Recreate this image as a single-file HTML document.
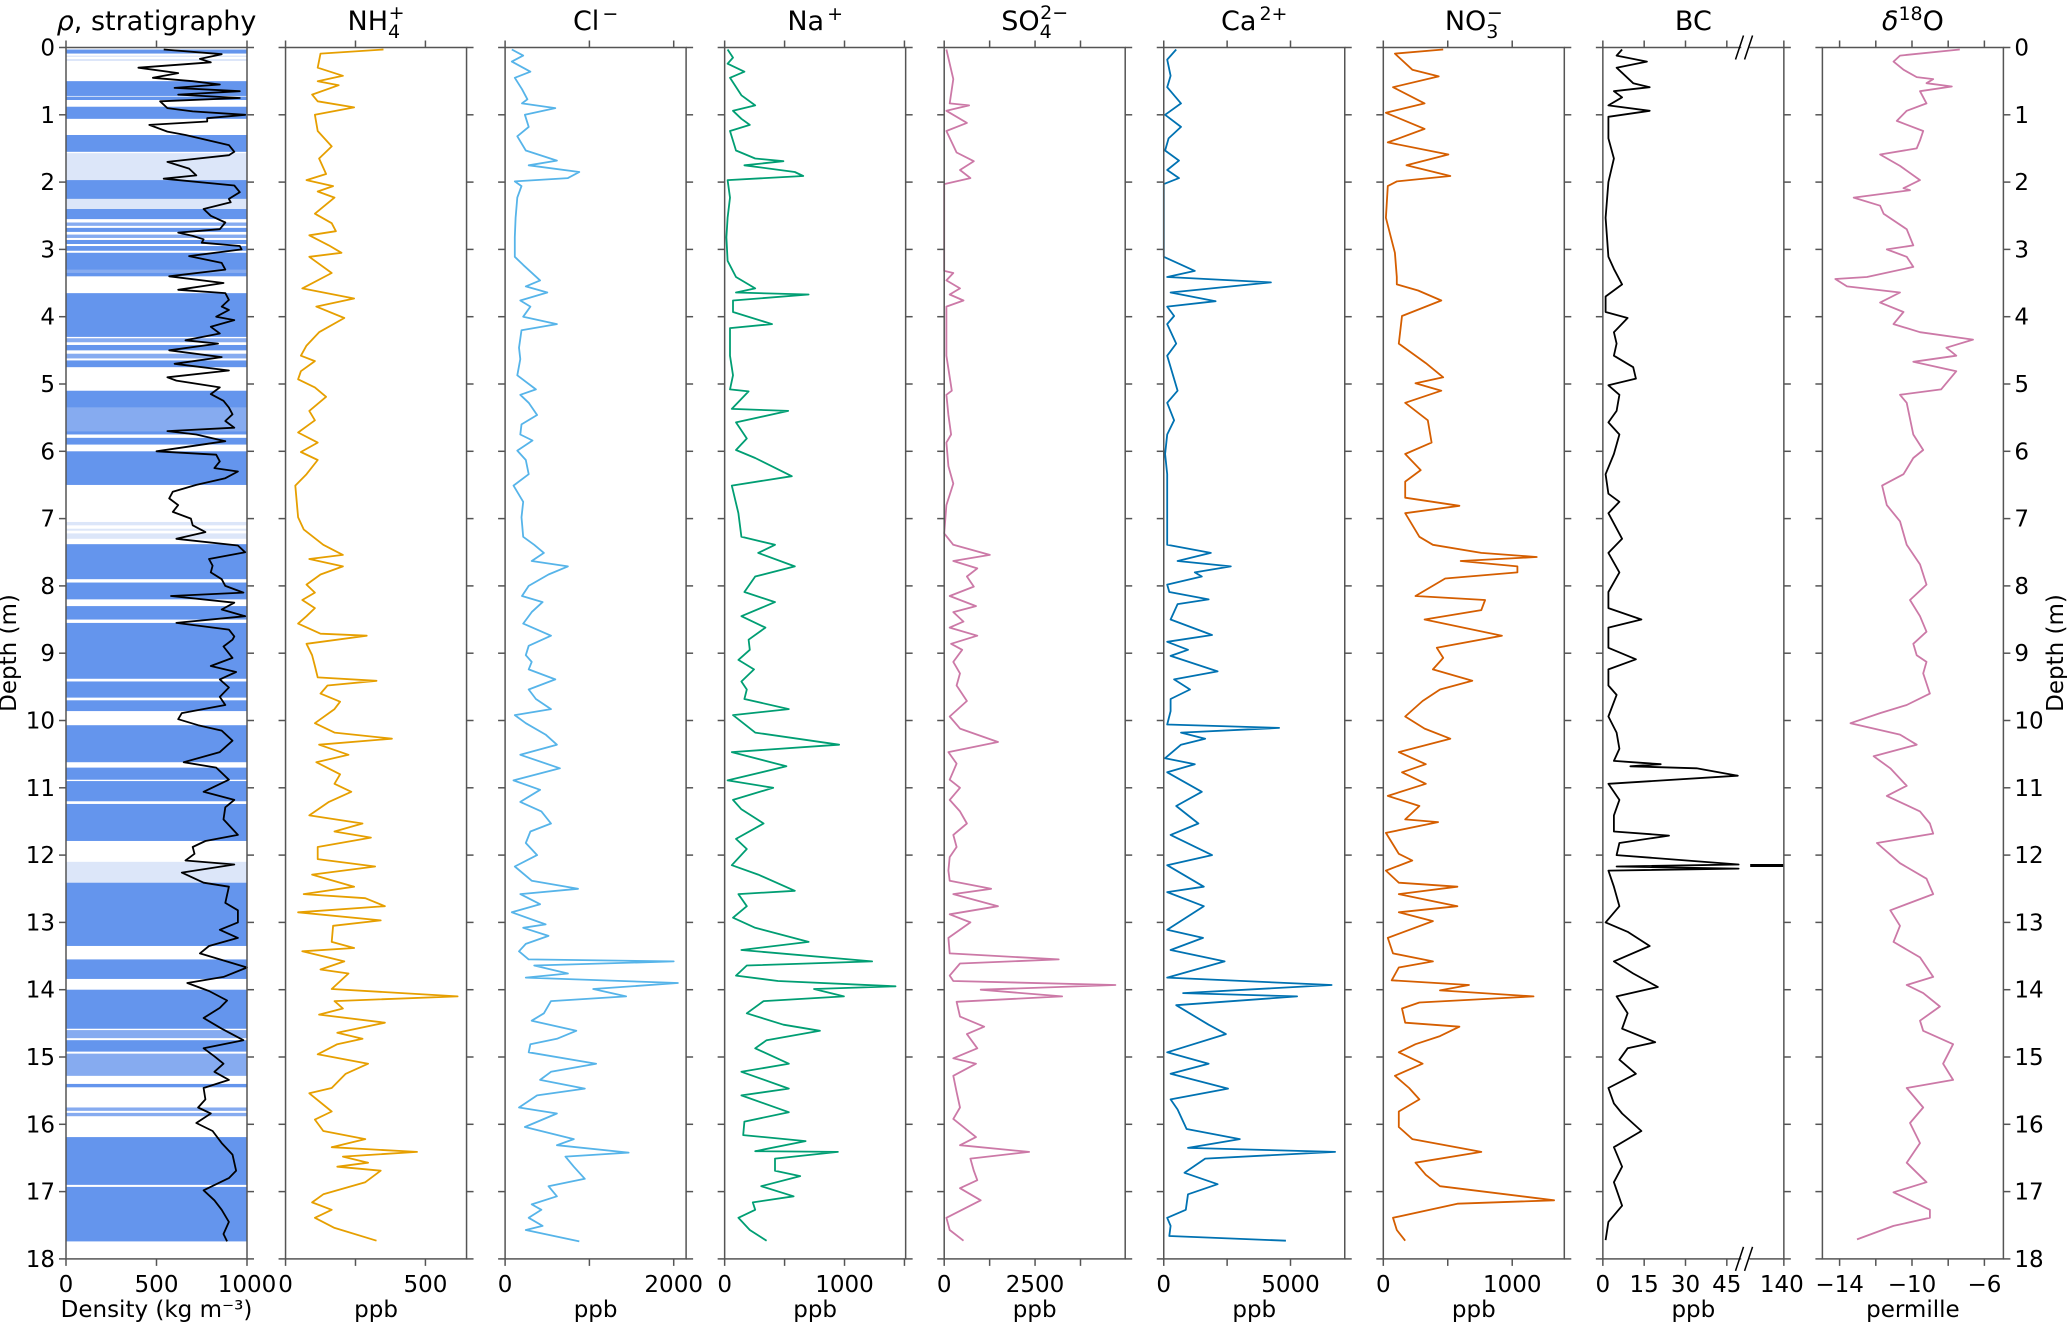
<!DOCTYPE html>
<html><head><meta charset="utf-8"><style>
html,body{margin:0;padding:0;background:#fff;}
svg{display:block;font-family:"DejaVu Sans","Liberation Sans",sans-serif;}
</style></head><body>
<svg id="chart" width="2067" height="1323" viewBox="0 0 2067 1323" xmlns="http://www.w3.org/2000/svg"></svg>
<script>
// ---------- data ----------
const densDepth=[0.03,0.1,0.17,0.22,0.3,0.38,0.45,0.5,0.55,0.6,0.65,0.7,0.75,0.8,0.9,0.95,1.0,1.05,1.1,1.15,1.25,1.3,1.45,1.55,1.6,1.7,1.8,1.9,1.95,2.05,2.15,2.25,2.3,2.4,2.5,2.6,2.7,2.75,2.8,2.85,2.9,2.95,3.0,3.1,3.2,3.3,3.4,3.5,3.6,3.65,3.75,3.85,3.9,4.0,4.05,4.15,4.25,4.35,4.4,4.5,4.6,4.7,4.8,4.9,4.95,5.05,5.15,5.25,5.35,5.45,5.55,5.65,5.7,5.75,5.85,6.0,6.05,6.15,6.25,6.3,6.4,6.5,6.6,6.7,6.8,6.9,7.0,7.1,7.2,7.3,7.4,7.5,7.6,7.7,7.8,7.9,8.0,8.1,8.15,8.25,8.35,8.45,8.55,8.65,8.75,8.8,8.9,9.07,9.19,9.28,9.39,9.51,9.65,9.77,9.89,9.98,10.07,10.15,10.3,10.47,10.62,10.7,10.88,11.06,11.18,11.29,11.47,11.7,11.79,11.88,11.98,12.08,12.14,12.26,12.41,12.47,12.71,12.82,13.0,13.11,13.23,13.35,13.46,13.67,13.81,13.9,14.02,14.16,14.27,14.42,14.58,14.75,14.87,14.99,15.1,15.22,15.34,15.46,15.63,15.75,15.84,15.98,16.1,16.28,16.45,16.69,16.8,16.98,17.13,17.27,17.45,17.63,17.74];
const densVal=[540,860,740,800,400,620,480,700,850,600,960,620,960,520,560,700,990,780,780,460,560,660,900,930,900,560,680,720,540,930,960,900,910,760,800,880,850,620,700,760,750,960,970,680,860,880,570,870,620,880,900,860,900,830,930,800,850,660,840,570,860,600,900,560,610,850,800,870,900,920,880,930,560,720,880,500,830,850,820,950,880,720,590,570,620,590,690,700,770,610,950,990,790,810,800,860,880,980,580,930,860,990,610,900,930,920,870,920,800,940,850,900,850,880,640,620,730,860,920,850,650,830,900,760,930,880,870,950,770,700,710,660,930,640,760,900,880,950,950,850,950,790,740,1000,870,670,790,890,850,760,860,980,760,820,870,820,900,760,770,730,800,720,810,860,920,940,900,760,820,860,900,870,890];
// stratigraphy layers: top, bottom, type (1 = dense blue, 2 = medium, 3 = light)
const layerTop=   [0.03,0.12,0.17,0.5,0.73,0.88,1.3,1.57,1.97,2.25,2.4,2.6,2.68,2.78,2.86,2.95,3.05,3.3,3.65,4.32,4.42,4.55,4.65,5.1,5.35,5.7,5.8,6.0,7.05,7.15,7.22,7.38,7.95,8.3,8.55,9.42,9.7,10.07,10.7,10.9,11.24,12.1,12.41,13.55,14.0,14.6,14.75,14.95,15.4,15.75,15.83,16.19,16.93];
const layerBottom=[0.09,0.14,0.2,0.72,0.78,1.06,1.55,1.97,2.25,2.4,2.55,2.65,2.74,2.83,2.92,3.02,3.4,3.35,4.3,4.38,4.5,4.62,4.75,5.35,5.7,5.75,5.9,6.5,7.1,7.18,7.3,7.9,8.2,8.5,9.38,9.66,9.86,10.62,10.88,11.2,11.79,12.41,13.35,13.84,14.58,14.72,14.92,15.28,15.45,15.8,15.88,16.9,17.74];
const layerType=  [1,3,3,1,1,1,1,3,1,3,1,2,1,2,1,1,1,2,1,2,1,2,1,1,2,1,1,1,3,3,3,1,1,1,1,1,1,1,1,1,1,3,1,1,1,2,1,2,1,2,2,1,1];

const nh4Depth=[0.03,0.09,0.3,0.42,0.5,0.56,0.7,0.8,0.89,1.0,1.24,1.47,1.65,1.88,1.97,2.06,2.14,2.23,2.47,2.61,2.73,2.79,2.94,3.05,3.11,3.35,3.58,3.73,3.85,4.02,4.23,4.43,4.58,4.66,4.81,4.93,5.05,5.19,5.4,5.54,5.72,5.87,6.01,6.13,6.34,6.51,6.98,7.16,7.39,7.54,7.6,7.71,7.83,7.98,8.1,8.21,8.33,8.45,8.56,8.71,8.74,8.86,9.03,9.19,9.36,9.41,9.48,9.6,9.72,9.83,10.04,10.18,10.27,10.36,10.51,10.62,10.8,10.94,11.06,11.21,11.41,11.53,11.65,11.74,11.88,12.06,12.17,12.29,12.47,12.58,12.64,12.76,12.85,12.97,13.05,13.29,13.38,13.43,13.58,13.7,13.76,13.99,14.1,14.17,14.28,14.37,14.49,14.64,14.73,14.81,14.96,15.1,15.25,15.46,15.54,15.81,15.93,16.1,16.22,16.34,16.41,16.48,16.57,16.63,16.69,16.86,17.04,17.16,17.27,17.39,17.54,17.73];
const nh4Val=[350,125,115,205,115,190,95,115,245,105,115,165,120,145,75,170,115,175,105,165,180,85,155,200,85,165,60,245,110,210,120,75,55,105,55,45,105,145,85,105,45,115,55,115,75,35,45,65,135,205,85,205,125,75,105,60,105,75,45,125,290,75,95,105,115,325,150,125,195,175,105,175,380,120,225,110,195,175,235,155,85,275,175,305,115,115,320,95,245,65,285,355,45,340,170,165,245,60,210,125,225,165,615,175,205,120,355,185,275,185,115,295,215,165,85,165,105,135,285,165,470,205,295,185,340,285,135,95,165,105,175,325];

const clDepth=[0.03,0.12,0.21,0.36,0.45,0.62,0.77,0.83,0.9,1.0,1.18,1.32,1.53,1.68,1.75,1.85,1.94,1.99,2.06,2.23,2.53,2.82,3.11,3.23,3.46,3.55,3.64,3.76,3.85,4.0,4.11,4.2,4.46,4.63,4.87,5.08,5.16,5.28,5.46,5.6,5.75,5.84,5.99,6.13,6.34,6.51,6.75,6.98,7.27,7.39,7.51,7.63,7.71,7.83,8.0,8.15,8.24,8.39,8.56,8.74,8.89,9.03,9.13,9.24,9.39,9.54,9.68,9.83,9.92,10.04,10.21,10.36,10.51,10.71,10.89,11.03,11.21,11.35,11.53,11.65,11.82,12.0,12.17,12.38,12.5,12.58,12.73,12.85,13.03,13.08,13.2,13.32,13.43,13.55,13.58,13.64,13.76,13.82,13.9,13.99,14.1,14.17,14.35,14.46,14.61,14.73,14.81,14.93,15.1,15.22,15.34,15.47,15.57,15.75,15.84,16.04,16.22,16.31,16.42,16.48,16.63,16.81,16.92,17.07,17.19,17.27,17.39,17.51,17.57,17.74];
const clVal=[80,215,80,300,115,200,265,200,595,235,280,145,245,615,280,880,745,115,195,145,125,115,115,215,415,245,500,180,300,215,615,195,165,180,145,365,180,280,380,195,180,325,145,245,280,100,215,195,215,345,460,315,745,515,280,200,445,315,215,545,280,245,315,280,595,280,365,545,115,245,480,615,180,650,100,415,180,430,545,300,245,380,115,315,865,180,415,80,480,215,515,245,165,280,2000,345,745,245,2050,1045,1435,545,460,315,845,615,300,280,1080,545,415,945,380,165,615,235,815,615,1465,715,815,945,515,615,315,430,280,445,245,880];

const naDepth=[0.03,0.15,0.24,0.36,0.45,0.71,0.86,0.94,1.06,1.15,1.24,1.53,1.65,1.69,1.75,1.85,1.91,1.97,2.23,2.53,2.82,3.17,3.41,3.58,3.64,3.67,3.76,3.93,4.11,4.17,4.58,4.87,5.08,5.11,5.37,5.4,5.57,5.81,5.98,6.1,6.37,6.51,6.92,7.27,7.39,7.51,7.71,7.86,8.09,8.24,8.45,8.62,8.8,8.95,9.1,9.24,9.42,9.54,9.68,9.83,9.92,10.18,10.36,10.47,10.68,10.89,11.0,11.18,11.32,11.53,11.76,11.91,12.15,12.29,12.53,12.58,12.76,12.93,13.08,13.29,13.41,13.58,13.64,13.79,13.87,13.95,13.99,14.1,14.17,14.35,14.52,14.61,14.75,14.87,15.1,15.22,15.47,15.57,15.82,15.96,16.16,16.25,16.4,16.41,16.51,16.69,16.77,16.92,17.07,17.16,17.27,17.39,17.57,17.73];
const naVal=[25,70,25,165,45,140,255,70,140,210,45,95,255,490,165,585,655,25,45,25,15,25,95,255,95,700,70,70,395,45,45,70,45,200,60,530,95,185,95,255,560,60,115,140,420,280,585,255,165,420,140,340,200,210,115,245,140,185,165,535,70,255,955,60,515,25,405,70,140,325,95,185,60,280,585,115,185,70,255,700,140,1230,185,95,445,1425,745,995,325,185,490,795,350,255,535,140,535,140,535,165,155,675,255,945,420,420,630,305,575,235,255,115,210,350];

const so4Depth=[0.03,0.47,0.83,0.86,0.94,1.12,1.24,1.56,1.69,1.82,1.94,2.03,2.82,3.32,3.35,3.46,3.58,3.67,3.76,3.85,4.58,5.1,5.16,5.46,5.75,5.87,6.22,6.48,6.8,7.22,7.39,7.54,7.63,7.74,7.86,8.01,8.15,8.3,8.39,8.53,8.62,8.74,8.86,8.95,9.13,9.3,9.48,9.71,9.94,10.12,10.32,10.47,10.64,10.88,11.0,11.18,11.35,11.53,11.7,11.88,12.03,12.23,12.38,12.5,12.58,12.76,12.88,13.0,13.23,13.46,13.55,13.61,13.79,13.87,13.93,14.0,14.1,14.18,14.4,14.55,14.66,14.87,15.02,15.1,15.28,15.52,15.75,15.92,16.19,16.31,16.41,16.51,16.69,16.83,16.95,17.13,17.39,17.57,17.73];
const so4Val=[60,250,150,685,60,625,60,340,815,435,720,0,0,0,250,60,435,150,530,60,60,210,60,115,190,60,115,250,60,0,250,1255,250,910,625,815,150,875,250,530,150,910,190,495,250,435,340,625,150,435,1480,115,340,150,435,150,435,625,250,340,150,115,150,1290,250,1480,150,720,115,150,3150,435,150,250,4710,1005,3245,340,435,1100,625,910,250,875,250,340,435,250,875,435,2335,720,815,910,435,1005,60,150,530];

const caDepth=[0.03,0.18,0.42,0.59,0.83,1.0,1.18,1.35,1.53,1.68,1.82,1.94,2.03,3.11,3.32,3.41,3.49,3.64,3.77,3.85,3.99,4.11,4.4,4.58,5.1,5.28,5.54,5.75,6.04,6.34,6.63,7.39,7.51,7.63,7.71,7.8,7.86,7.98,8.09,8.2,8.27,8.5,8.73,8.83,8.95,9.04,9.27,9.39,9.54,9.68,9.86,10.06,10.11,10.18,10.27,10.36,10.56,10.65,10.77,11.06,11.27,11.53,11.7,12.0,12.15,12.47,12.55,12.76,13.11,13.23,13.41,13.58,13.82,13.93,14.05,14.1,14.23,14.52,14.66,14.93,15.1,15.25,15.47,15.63,15.78,16.07,16.22,16.35,16.41,16.51,16.72,16.89,17.04,17.27,17.39,17.51,17.66,17.73];
const caVal=[490,135,270,135,680,55,680,190,55,600,135,600,0,0,1225,135,4225,270,2045,135,410,135,490,135,545,135,410,135,55,135,135,135,1855,545,2645,1225,1500,135,220,1770,545,270,1905,135,955,270,2125,410,1035,270,270,135,4550,680,1635,680,55,1225,135,1500,490,1365,270,1905,135,1580,135,1580,135,1550,270,2400,135,6620,765,5260,490,1770,2450,135,1770,270,2535,270,545,900,3000,955,6760,1635,820,2125,955,870,135,270,220,4820];

const no3Depth=[0.03,0.09,0.33,0.43,0.59,0.83,0.97,1.21,1.41,1.59,1.75,1.91,1.99,2.06,2.53,3.05,3.41,3.52,3.61,3.76,3.99,4.4,4.69,4.9,4.99,5.1,5.28,5.54,5.87,6.04,6.28,6.45,6.69,6.81,6.92,7.27,7.39,7.51,7.57,7.63,7.71,7.8,7.89,8.15,8.21,8.36,8.5,8.74,8.92,9.07,9.24,9.41,9.54,9.71,9.94,10.12,10.27,10.47,10.65,10.77,10.94,11.12,11.27,11.47,11.51,11.67,11.98,12.08,12.23,12.41,12.47,12.58,12.76,12.85,12.98,13.23,13.46,13.58,13.67,13.86,13.93,14.01,14.1,14.19,14.28,14.49,14.55,14.69,14.81,14.93,15.1,15.28,15.46,15.63,15.81,16.04,16.22,16.41,16.57,16.75,16.92,17.13,17.18,17.39,17.57,17.73];
const no3Val=[465,90,225,430,75,320,20,320,35,505,180,520,105,35,20,90,105,105,270,450,145,120,330,465,250,450,170,345,375,170,290,170,170,590,170,280,385,760,1190,600,1040,1040,480,250,790,760,320,920,415,465,385,690,440,305,170,320,520,120,330,145,330,35,280,170,425,20,120,225,20,120,575,120,575,120,385,35,75,385,120,65,665,440,1165,280,145,170,590,440,250,120,305,90,200,280,120,120,225,760,250,330,440,1325,575,75,105,170];

const bcDepth=[0.03,0.12,0.21,0.3,0.53,0.59,0.65,0.74,0.86,0.94,1.03,1.35,1.65,2.0,2.53,3.11,3.29,3.52,3.7,3.93,4.02,4.23,4.4,4.58,4.75,4.92,5.02,5.16,5.4,5.57,5.75,6.04,6.34,6.63,6.75,6.92,7.3,7.51,7.8,8.09,8.33,8.5,8.62,8.92,9.09,9.24,9.48,9.62,9.94,10.18,10.42,10.6,10.65,10.68,10.71,10.82,10.94,11.18,11.41,11.65,11.71,11.82,12.0,12.14,12.17,12.2,12.23,12.47,12.76,13.0,13.14,13.35,13.58,13.76,13.96,14.1,14.35,14.58,14.78,14.87,15.04,15.25,15.46,15.69,15.84,16.1,16.34,16.63,16.86,17.21,17.45,17.72];
const bcVal=[7,5,16,5,11,17,4,7,2,17,2,2,4,2,1,2,4,7,1,1,9,4,5,4,11,12,2,6,5,2,6,4,1,2,6,2,7,2,6,2,2,14,2,2,12,2,2,5,2,5,6,4,21,10,34,49,2,6,4,4,24,6,5,200,5,200,2,4,6,1,9,17,4,11,20,5,9,7,19,9,6,12,2,4,7,14,4,7,4,7,2,1];

const d18oDepth=[0.03,0.12,0.21,0.33,0.44,0.47,0.53,0.58,0.65,0.83,0.94,1.09,1.24,1.38,1.5,1.59,1.76,1.97,2.09,2.12,2.23,2.35,2.47,2.7,2.94,3.0,3.11,3.26,3.41,3.44,3.55,3.64,3.79,3.93,4.11,4.23,4.34,4.46,4.58,4.67,4.81,5.08,5.16,5.28,5.75,5.98,6.1,6.34,6.51,6.8,7.04,7.39,7.68,7.98,8.21,8.45,8.68,8.86,9.03,9.13,9.3,9.6,9.77,9.89,10.04,10.21,10.36,10.53,10.71,10.97,11.12,11.35,11.53,11.68,11.82,12.12,12.35,12.58,12.82,13.05,13.29,13.52,13.81,13.93,14.05,14.25,14.46,14.61,14.81,15.1,15.34,15.46,15.75,15.98,16.28,16.57,16.86,17.01,17.27,17.39,17.51,17.71];
const d18oVal=[-7.36,-10.66,-11.02,-10.47,-9.74,-8.83,-9.2,-7.8,-9.56,-9.2,-10.29,-10.84,-9.38,-9.56,-9.74,-11.76,-10.66,-9.56,-10.47,-10.11,-13.22,-11.76,-11.57,-10.29,-9.93,-11.39,-10.29,-9.93,-12.49,-14.24,-13.59,-10.66,-11.76,-10.47,-11.02,-9.56,-6.63,-8.1,-7.55,-9.93,-7.55,-8.39,-10.66,-10.29,-9.93,-9.38,-9.93,-10.47,-11.65,-11.39,-10.66,-10.29,-9.56,-9.2,-10.11,-9.56,-9.2,-9.93,-9.74,-9.2,-9.38,-9.01,-10.29,-11.76,-13.4,-10.66,-9.74,-12.12,-11.2,-10.29,-11.39,-9.56,-9.01,-8.83,-11.94,-10.66,-9.2,-8.83,-11.2,-10.66,-11.02,-9.56,-8.83,-10.29,-9.38,-8.46,-9.56,-9.38,-7.73,-8.28,-7.73,-10.29,-9.38,-10.11,-9.56,-10.29,-9.2,-11.02,-9.01,-9.01,-11.02,-13.04];

const depthTicks=[0,1,2,3,4,5,6,7,8,9,10,11,12,13,14,15,16,17,18];

// ---------- layout ----------
const NS="http://www.w3.org/2000/svg";
const svg=document.getElementById('chart');
const TOP=47.5, PXM=67.3, W=181, LW=1.8;
function yScale(d){return TOP+PXM*d;}
function panelLeft(i){return 66+219.55*i;}
function mk(tag,attrs,parent){const e=document.createElementNS(NS,tag);for(const k in attrs)e.setAttribute(k,attrs[k]);(parent||svg).appendChild(e);return e;}

const panels=[
 {key:'density',min:0,max:1000,ticks:[0,500,1000],labels:['0','500','1000'],xlabel:'Density (kg m\u207B\u00B3)'},
 {key:'nh4',min:0,max:647,ticks:[0,250,500],labels:['0','','500'],xlabel:'ppb',color:'#E69F00',d:nh4Depth,v:nh4Val},
 {key:'cl',min:0,max:2147,ticks:[0,1000,2000],labels:['0','','2000'],xlabel:'ppb',color:'#56B4E9',d:clDepth,v:clVal},
 {key:'na',min:0,max:1510,ticks:[0,500,1000,1500],labels:['0','','1000',''],xlabel:'ppb',color:'#009E73',d:naDepth,v:naVal},
 {key:'so4',min:0,max:4980,ticks:[0,1250,2500,3750],labels:['0','','2500',''],xlabel:'ppb',color:'#CC79A7',d:so4Depth,v:so4Val},
 {key:'ca',min:0,max:7140,ticks:[0,2500,5000],labels:['0','','5000'],xlabel:'ppb',color:'#0072B2',d:caDepth,v:caVal},
 {key:'no3',min:0,max:1404,ticks:[0,500,1000],labels:['0','','1000'],xlabel:'ppb',color:'#D55E00',d:no3Depth,v:no3Val},
 {key:'bc',min:0,max:65.7,ticks:[0,15,30,45],labels:['0','15','30','45'],xlabel:'ppb',color:'#000'},
 {key:'d18o',min:-14.95,max:-4.95,ticks:[-14,-12,-10,-8,-6],labels:['\u221214','','\u221210','','\u22126'],xlabel:'permille',color:'#CC79A7',d:d18oDepth,v:d18oVal}
];
function xScale(p,i,v){return panelLeft(i)+(v-p.min)/(p.max-p.min)*W;}

const BOT=yScale(18);
const spine='#555';
const titles=[
 ['\u03C1',', stratigraphy',null,null],
 ['NH','4','+',null],['Cl','','\u2212',null],['Na','','+',null],['SO','4','2\u2212',null],
 ['Ca','','2+',null],['NO','3','\u2212',null],['BC','','',null],['\u03B4','','18','O']
];

panels.forEach((p,i)=>{
  const L=panelLeft(i);
  const g=mk('g',{});
  
  

  if(p.key==='density'){
    const cols={1:'#6495ED',2:'#86abf0',3:'#dce6f9'};
    layerTop.forEach((t,j)=>{
      const r=mk('rect',{x:L,y:yScale(t),width:W,height:Math.max(1,yScale(layerBottom[j])-yScale(t)),fill:cols[layerType[j]]},g);
      
      
    });
    const pts=densDepth.map((d,j)=>xScale(p,i,densVal[j]).toFixed(1)+','+yScale(d).toFixed(1)).join(' ');
    const pl=mk('polyline',{points:pts,fill:'none',stroke:'#000','stroke-width':LW,'stroke-linejoin':'round'},g);
    
    
  } else if(p.key==='bc'){
    const clipX=L+0.75*W, segA=L+0.814*W;
    const pts=bcDepth.map((d,j)=>Math.min(xScale(p,i,bcVal[j]),clipX).toFixed(1)+','+yScale(d).toFixed(1)).join(' ');
    const pl=mk('polyline',{points:pts,fill:'none',stroke:'#000','stroke-width':LW,'stroke-linejoin':'round'},g);
    
    
    let done=false;
    bcDepth.forEach((d,j)=>{
      if(bcVal[j]>52 && !done){
        done=true;
        const sp=mk('line',{x1:segA,x2:L+W,y1:yScale(d+0.015),y2:yScale(d+0.015),stroke:'#000','stroke-width':3},g);
        
        
      }
    });
  } else {
    const pts=p.d.map((d,j)=>xScale(p,i,p.v[j]).toFixed(1)+','+yScale(d).toFixed(1)).join(' ');
    const pl=mk('polyline',{points:pts,fill:'none',stroke:p.color,'stroke-width':LW,'stroke-linejoin':'round'},g);
    
    
  }

  const fr=mk('rect',{x:L,y:TOP,width:W,height:BOT-TOP,fill:'none',stroke:spine,'stroke-width':1.5},g);
  
  

  depthTicks.forEach(d=>{
    const y=yScale(d);
    mk('line',{x1:L-7,x2:L,y1:y,y2:y,stroke:spine,'stroke-width':1.5},g);
    mk('line',{x1:L+W,x2:L+W+7,y1:y,y2:y,stroke:spine,'stroke-width':1.5},g);
    if(i===0){
      const t=mk('text',{x:L-11,y:y+8,'text-anchor':'end','font-size':23,fill:'#000'},g);
      t.textContent=d;
      
      
    }
    if(i===8){
      const t=mk('text',{x:L+W+11,y:y+8,'text-anchor':'start','font-size':23,fill:'#000'},g);
      t.textContent=d;
      
      
    }
  });

  p.ticks.forEach((tv,k)=>{
    const x=xScale(p,i,tv);
    mk('line',{x1:x,x2:x,y1:TOP-7,y2:TOP,stroke:spine,'stroke-width':1.5},g);
    mk('line',{x1:x,x2:x,y1:BOT,y2:BOT+7,stroke:spine,'stroke-width':1.5},g);
    if(p.labels[k]){
      const t=mk('text',{x:x,y:BOT+33,'text-anchor':'middle','font-size':23,fill:'#000'},g);
      t.textContent=p.labels[k];
      
      
    }
  });
  if(p.key==='bc'){
    const x=L+W;
    mk('line',{x1:x,x2:x,y1:TOP-7,y2:TOP,stroke:spine,'stroke-width':1.5},g);
    mk('line',{x1:x,x2:x,y1:BOT,y2:BOT+7,stroke:spine,'stroke-width':1.5},g);
    const t=mk('text',{x:x-2,y:BOT+33,'text-anchor':'middle','font-size':23,fill:'#000'},g);
    t.textContent='140';
    
    
    [TOP,BOT].forEach(yy=>{
      mk('rect',{x:L+0.765*W,y:yy-2,width:0.045*W,height:4,fill:'#fff'},g);
      [0.755,0.805].forEach(f=>{
        const bl=mk('line',{x1:L+f*W-4,y1:yy+12,x2:L+f*W+4,y2:yy-12,stroke:'#000','stroke-width':1.5},g);
        
        
      });
    });
  }

  const xl=mk('text',{x:L+W/2,y:BOT+58,'text-anchor':'middle','font-size':23,fill:'#000'},g);
  xl.textContent=p.xlabel;
  
  

  const tt=titles[i];
  const title=mk('text',{x:L+W/2,y:30,'text-anchor':'middle','font-size':27,fill:'#000'},g);
  
  
  if(i===0){
    const a=mk('tspan',{'font-style':'italic'},title); a.textContent=tt[0];
    const b=mk('tspan',{},title); b.textContent=tt[1];
  } else if(i===8){
    const a=mk('tspan',{'font-style':'italic'},title); a.textContent=tt[0];
    const s1=mk('tspan',{'font-size':19,dy:-10},title); s1.textContent=tt[2];
    const s2=mk('tspan',{dy:10},title); s2.textContent=tt[3];
  } else {
    const s0=mk('tspan',{},title); s0.textContent=tt[0];
    if(tt[1] && tt[2]){
      const s1=mk('tspan',{'font-size':19,dy:8},title); s1.textContent=tt[1];
      const w=tt[1].length*11.5;
      const s2=mk('tspan',{'font-size':19,dx:-w,dy:-19},title); s2.textContent=tt[2];
    } else if(tt[2]){
      const s2=mk('tspan',{'font-size':19,dy:-10,dx:3},title); s2.textContent=tt[2];
    }
  }
});

const yl=mk('text',{x:0,y:0,'text-anchor':'middle','font-size':23,fill:'#000',transform:'translate(16,653) rotate(-90)'});
yl.textContent='Depth (m)';


const yr=mk('text',{x:0,y:0,'text-anchor':'middle','font-size':23,fill:'#000',transform:'translate(2063,653) rotate(-90)'});
yr.textContent='Depth (m)';


</script>
</body></html>
